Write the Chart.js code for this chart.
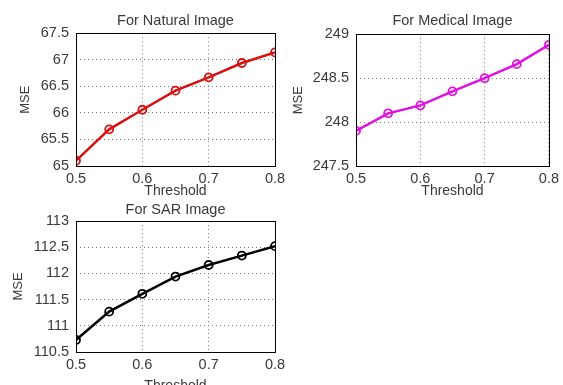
<!DOCTYPE html>
<html>
<head>
<meta charset="utf-8">
<script src="https://cdn.jsdelivr.net/npm/chart.js@4/dist/chart.umd.min.js"></script>
<style>
  html, body { margin: 0; padding: 0; background: #fff; }
  #page { position: relative; width: 563px; height: 385px; overflow: hidden; background: #fff; }
  canvas { position: absolute; }
</style>
</head>
<body>
<div id="page">
  <canvas id="natural" width="290" height="200" style="left:0px;top:0px;width:290px;height:200px"></canvas>
  <canvas id="medical" width="283" height="200" style="left:280px;top:0px;width:283px;height:200px"></canvas>
  <canvas id="sar" width="290" height="200" style="left:0px;top:195px;width:290px;height:200px"></canvas>
</div>
<script>
// data
const thresholds = [0.5, 0.55, 0.6, 0.65, 0.7, 0.75, 0.8];
const naturalMse = [65.1, 65.69, 66.06, 66.42, 66.67, 66.94, 67.14];
const medicalMse = [247.9, 248.1, 248.19, 248.35, 248.5, 248.66, 248.88];
const sarMse = [110.73, 111.27, 111.61, 111.94, 112.16, 112.34, 112.52];

const xTicks = [0.5, 0.6, 0.7, 0.8];
const naturalTicks = [65, 65.5, 66, 66.5, 67, 67.5];
const medicalTicks = [247.5, 248, 248.5, 249];
const sarTicks = [110.5, 111, 111.5, 112, 112.5, 113];

const FONT = "Liberation Sans, Arial, sans-serif";
const SIZE = 14.5;

// black frame round the plot, like matlab's axes box
const boxPlugin = {
  id: "box",
  afterDraw(chart) {
    const a = chart.chartArea;
    const ctx = chart.ctx;
    ctx.save();
    ctx.strokeStyle = "#000";
    ctx.lineWidth = 1;
    ctx.strokeRect(Math.round(a.left) + 0.5, Math.round(a.top) + 0.5,
      Math.round(a.right - a.left), Math.round(a.bottom - a.top));
    ctx.restore();
  }
};

function makeChart(id, title, values, yTicks, color, p) {
  const grid = { color: "#777", lineWidth: 1, drawTicks: false };
  const border = { display: false, dash: [1, 3] };
  return new Chart(document.getElementById(id), {
    type: "line",
    data: {
      datasets: [{
        data: thresholds.map((t, i) => ({ x: t, y: values[i] })),
        borderColor: color,
        borderWidth: 2.5,
        pointRadius: 4,
        pointBorderWidth: 1.8,
        pointBorderColor: color,
        pointBackgroundColor: "rgba(255,255,255,0)",
        tension: 0
      }]
    },
    options: {
      responsive: false,
      animation: false,
      devicePixelRatio: 1,
      layout: { padding: { left: 0, right: p.right, top: 0, bottom: 0 } },
      plugins: {
        legend: { display: false },
        tooltip: { enabled: false },
        title: {
          display: true,
          text: title,
          fullSize: false,
          color: "#3a3a3a",
          font: { family: FONT, size: SIZE, weight: "normal" },
          padding: { top: p.titleTop, bottom: p.titleBottom }
        }
      },
      scales: {
        x: {
          type: "linear",
          min: 0.5,
          max: 0.8,
          afterBuildTicks: s => { s.ticks = xTicks.map(v => ({ value: v })); },
          afterFit: s => { s.height = p.xHeight; },
          ticks: {
            color: "#3a3a3a",
            padding: 4,
            font: { family: FONT, size: SIZE },
            callback: v => String(v)
          },
          grid: grid,
          border: border,
          title: {
            display: true,
            text: "Threshold",
            color: "#3a3a3a",
            font: { family: FONT, size: 14 },
            padding: { top: 0, bottom: 0 }
          }
        },
        y: {
          min: yTicks[0],
          max: yTicks[yTicks.length - 1],
          afterBuildTicks: s => { s.ticks = yTicks.map(v => ({ value: v })); },
          afterFit: s => { s.width = 76; },
          ticks: {
            color: "#3a3a3a",
            padding: 7,
            font: { family: FONT, size: SIZE },
            callback: v => String(v)
          },
          grid: grid,
          border: border,
          title: {
            display: true,
            text: "MSE",
            color: "#3a3a3a",
            font: { family: FONT, size: 13 },
            padding: { top: p.yTitle, bottom: 0 }
          }
        }
      }
    },
    plugins: [boxPlugin]
  });
}

makeChart("natural", "For Natural Image", naturalMse, naturalTicks, "#d81010",
  { right: 15, titleTop: 12.3, titleBottom: 3.6, xHeight: 34, yTitle: 17.2 });
makeChart("medical", "For Medical Image", medicalMse, medicalTicks, "#e010e0",
  { right: 8, titleTop: 12.3, titleBottom: 4.6, xHeight: 34, yTitle: 10.2 });
makeChart("sar", "For SAR Image", sarMse, sarTicks, "#000",
  { right: 15, titleTop: 6.3, titleBottom: 2.3, xHeight: 43, yTitle: 10.2 });
</script>
</body>
</html>
